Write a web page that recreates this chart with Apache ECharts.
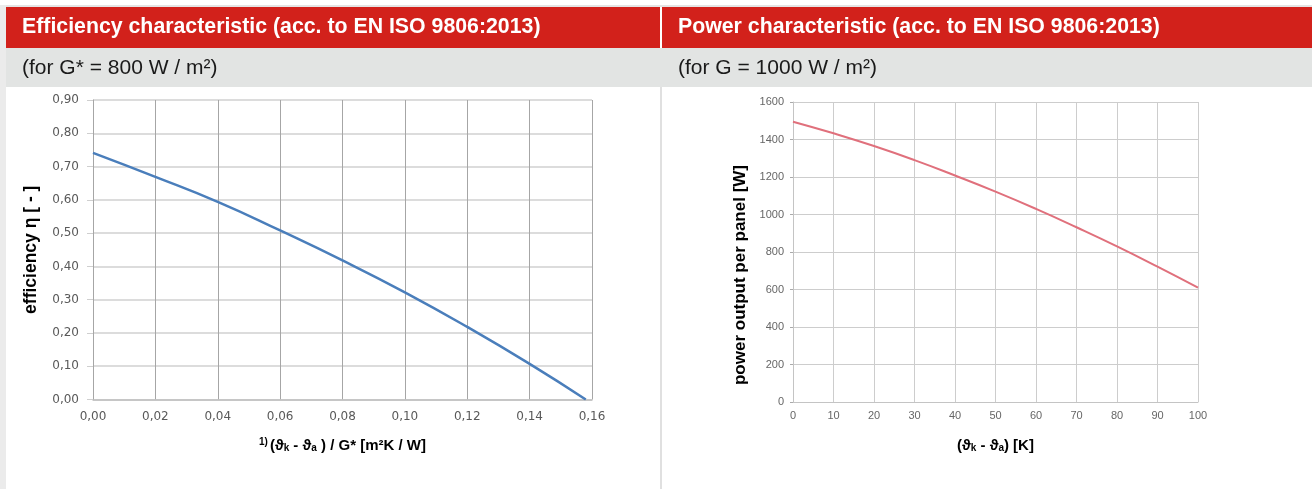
<!DOCTYPE html>
<html>
<head>
<meta charset="utf-8">
<script src="https://cdn.jsdelivr.net/npm/echarts@6/dist/echarts.min.js"></script>
<style>
  html, body { margin: 0; padding: 0; background: #fff; }
  #chart-container { width: 1312px; height: 489px; }
</style>
</head>
<body>
<div id="chart-container"></div>
<script>
// efficiency curve (left)
const effX = [0, 0.02, 0.04, 0.06, 0.08, 0.10, 0.12, 0.14, 0.158];
const effY = [0.741, 0.669, 0.594, 0.508, 0.418, 0.322, 0.218, 0.107, 0.0];

// power curve (right)
const powerX = [0, 10, 20, 30, 40, 50, 60, 70, 80, 90, 100];
const powerY = [1495, 1433, 1365, 1290, 1208, 1122, 1030, 932, 830, 722, 610];

const leftTitle = "Efficiency characteristic (acc. to EN ISO 9806:2013)";
const rightTitle = "Power characteristic (acc. to EN ISO 9806:2013)";
const leftSub = "(for G* = 800 W / m²)";
const rightSub = "(for G = 1000 W / m²)";

(() => {
  var dom = document.getElementById("chart-container");
  var chart = echarts.init(dom, null, { renderer: "canvas" });

  const comma = (v) => v.toFixed(2).replace(".", ",");
  const nameStyle = (size) => ({
    color: "#000",
    fontFamily: "Liberation Sans",
    fontWeight: "bold",
    fontSize: size,
    rich: {
      sub: { fontSize: 10, fontWeight: "bold", fontFamily: "Liberation Sans", color: "#000", verticalAlign: "bottom", padding: [4, 0, 0, 0] },
      sup: { fontSize: 10, fontWeight: "bold", fontFamily: "Liberation Sans", color: "#000", verticalAlign: "top", padding: [0, 2, 6, 0] },
    },
  });

  const option = {
    animation: false,
    graphic: [
      { type: "rect", shape: { x: 0, y: 5, width: 1312, height: 2 }, style: { fill: "#e4e4e4" } },
      { type: "rect", shape: { x: 0, y: 5, width: 6, height: 484 }, style: { fill: "#ebebeb" } },
      { type: "rect", shape: { x: 6, y: 7, width: 654, height: 41 }, style: { fill: "#d2211b" } },
      { type: "rect", shape: { x: 662, y: 7, width: 650, height: 41 }, style: { fill: "#d2211b" } },
      { type: "rect", shape: { x: 6, y: 48, width: 1306, height: 39 }, style: { fill: "#e2e4e3" } },
      { type: "rect", shape: { x: 660, y: 87, width: 2, height: 402 }, style: { fill: "#e0e0e0" } },
      {
        type: "text", x: 22, y: 27,
        style: { text: leftTitle, fill: "#fff", font: "bold 21.3px 'Liberation Sans'", textVerticalAlign: "middle" },
      },
      {
        type: "text", x: 678, y: 27,
        style: { text: rightTitle, fill: "#fff", font: "bold 21.3px 'Liberation Sans'", textVerticalAlign: "middle" },
      },
      {
        type: "text", x: 22, y: 68,
        style: { text: leftSub, fill: "#1a1a1a", font: "21px 'Liberation Sans'", textVerticalAlign: "middle" },
      },
      {
        type: "text", x: 678, y: 68,
        style: { text: rightSub, fill: "#1a1a1a", font: "21px 'Liberation Sans'", textVerticalAlign: "middle" },
      },
    ],
    grid: [
      { left: 93, top: 100, width: 499, height: 299.5 },
      { left: 793, top: 102, width: 405, height: 300 },
    ],
    xAxis: [
      {
        gridIndex: 0,
        type: "value",
        min: 0,
        max: 0.16,
        interval: 0.02,
        name: "{sup|1)}(ϑ{sub|k} - ϑ{sub|a} ) / G* [m²K / W]",
        nameLocation: "middle",
        nameGap: 38,
        nameTextStyle: nameStyle(15),
        axisLine: { lineStyle: { color: "#bfbfbf", width: 1.5 } },
        axisTick: { show: false },
        axisLabel: { formatter: comma, color: "#595959", fontFamily: "DejaVu Sans", fontSize: 12, margin: 11 },
        splitLine: { lineStyle: { color: "#a6a6a6" } },
      },
      {
        gridIndex: 1,
        type: "value",
        min: 0,
        max: 100,
        interval: 10,
        name: "(ϑ{sub|k} - ϑ{sub|a}) [K]",
        nameLocation: "middle",
        nameGap: 36,
        nameTextStyle: nameStyle(15),
        axisLine: { lineStyle: { color: "#c4c4c4" } },
        axisTick: { show: false },
        axisLabel: { color: "#666", fontFamily: "Liberation Sans", fontSize: 11, margin: 8 },
        splitLine: { lineStyle: { color: "#cdcdcd" } },
      },
    ],
    yAxis: [
      {
        gridIndex: 0,
        type: "value",
        min: 0,
        max: 0.9,
        interval: 0.1,
        name: "efficiency η [ - ]",
        nameLocation: "middle",
        nameGap: 53,
        nameTextStyle: nameStyle(17.5),
        axisLine: { show: true, lineStyle: { color: "#a6a6a6" } },
        axisTick: { show: true, length: 6, lineStyle: { color: "#cfcfcf" } },
        axisLabel: { formatter: comma, color: "#595959", fontFamily: "DejaVu Sans", fontSize: 12, margin: 14 },
        splitLine: { lineStyle: { color: "#d0d0d0", width: 1.5 } },
      },
      {
        gridIndex: 1,
        type: "value",
        min: 0,
        max: 1600,
        interval: 200,
        name: "power output per panel [W]",
        nameLocation: "middle",
        nameGap: 44,
        nameTextStyle: Object.assign(nameStyle(17), { padding: [0, 46, 0, 0] }),
        axisLine: { show: true, lineStyle: { color: "#c4c4c4" } },
        axisTick: { show: true, length: 3, lineStyle: { color: "#aaa" } },
        axisLabel: { formatter: (v) => String(v), color: "#666", fontFamily: "Liberation Sans", fontSize: 11, margin: 9 },
        splitLine: { lineStyle: { color: "#cdcdcd" } },
      },
    ],
    series: [
      {
        type: "line",
        xAxisIndex: 0,
        yAxisIndex: 0,
        smooth: true,
        symbol: "none",
        color: "#4a7ebb",
        lineStyle: { width: 2.5 },
        data: effX.map((x, i) => [x, effY[i]]),
      },
      {
        type: "line",
        xAxisIndex: 1,
        yAxisIndex: 1,
        smooth: true,
        symbol: "none",
        color: "#e0707c",
        lineStyle: { width: 2 },
        data: powerX.map((x, i) => [x, powerY[i]]),
      },
    ],
  };

  chart.setOption(option);
  window.addEventListener("resize", chart.resize);
})();
</script>
</body>
</html>
